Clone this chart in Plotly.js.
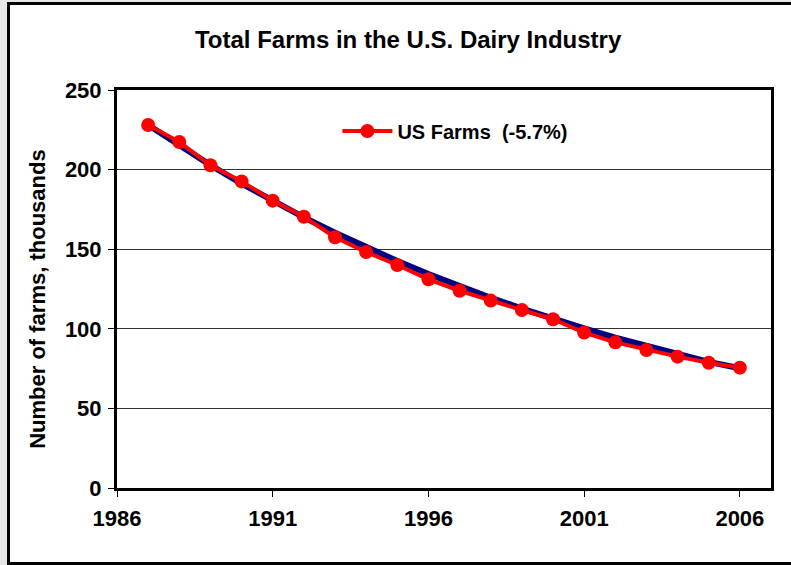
<!DOCTYPE html>
<html>
<head>
<meta charset="utf-8">
<script src="https://cdn.plot.ly/plotly-3.0.1.min.js"></script>
<style>
  html, body { margin: 0; padding: 0; background: #e6e6e6; width: 791px; height: 565px; overflow: hidden; }
  #frame { position: absolute; left: 7px; top: 2px; width: 800px; height: 557px;
           border: 3px solid #000; border-right: none; background: #fff; }
  #chart { position: absolute; left: 0; top: 0; width: 791px; height: 565px; }
</style>
</head>
<body>
<div id="frame"></div>
<div id="chart"></div>
<script>
// Number of U.S. dairy farms (thousands), 1987-2006
const years = [1987, 1988, 1989, 1990, 1991, 1992, 1993, 1994, 1995, 1996,
               1997, 1998, 1999, 2000, 2001, 2002, 2003, 2004, 2005, 2006];
const farms = [228.0, 217.3, 202.7, 192.6, 180.5, 170.4, 157.5, 148.2, 140.1, 131.1,
               123.9, 117.7, 111.8, 106.0, 97.6, 91.5, 86.7, 82.5, 78.7, 75.6];
// Exponential trend line (-5.7% per year)
const trend = [228.0, 215.0, 202.8, 191.2, 180.3, 170.0, 160.3, 151.2, 142.6, 134.4,
               126.8, 119.5, 112.7, 106.3, 100.2, 94.5, 89.1, 84.0, 79.2, 75.2];
const xTicks = [1986, 1991, 1996, 2001, 2006];
const yTicks = [0, 50, 100, 150, 200, 250];

const FONT = 'Liberation Sans, Arial, sans-serif';

const traces = [
  {
    x: years, y: trend, type: 'scatter', mode: 'lines',
    line: { color: '#000080', width: 6 },
    showlegend: false, hoverinfo: 'skip'
  },
  {
    x: years, y: farms, type: 'scatter', mode: 'lines+markers',
    name: 'US Farms\u00a0\u00a0(-5.7%)',
    line: { color: '#ff0000', width: 4 },
    marker: { color: '#ff0000', size: 14 }
  }
];

const layout = {
  width: 791, height: 565,
  paper_bgcolor: 'rgba(0,0,0,0)',
  plot_bgcolor: '#ffffff',
  margin: { l: 117, r: 20, t: 90, b: 77 },
  font: { family: FONT, color: '#000' },
  title: {
    text: 'Total Farms in the U.S. Dairy Industry',
    font: { family: FONT, size: 24, weight: 700, color: '#000' },
    x: 0.516, xanchor: 'center', y: 0.93, yanchor: 'middle'
  },
  xaxis: {
    range: [1986, 2007],
    tickvals: xTicks,
    ticktext: xTicks.map(String),
    ticks: 'outside', ticklen: 6, tickwidth: 1, tickcolor: '#000',
    showgrid: false, zeroline: false,
    showline: true, linecolor: '#000', linewidth: 3, mirror: true,
    ticklabelstandoff: 3,
    tickfont: { family: FONT, size: 22, weight: 700, color: '#000' }
  },
  yaxis: {
    range: [0, 250],
    tickvals: yTicks,
    ticks: 'outside', ticklen: 6, tickwidth: 1, tickcolor: '#000',
    showgrid: true, gridcolor: '#333', gridwidth: 1, zeroline: false,
    showline: true, linecolor: '#000', linewidth: 3, mirror: true,
    tickfont: { family: FONT, size: 22, weight: 700, color: '#000' },
    ticklabelstandoff: 2
  },
  annotations: [{
    text: 'Number of farms, thousands',
    xref: 'paper', yref: 'paper', x: -0.121, y: 0.475,
    xanchor: 'center', yanchor: 'middle', textangle: -90, showarrow: false,
    font: { family: FONT, size: 22, weight: 700, color: '#000' }
  }],
  legend: {
    x: 0.337, y: 0.897, xanchor: 'left', yanchor: 'middle',
    bgcolor: 'rgba(0,0,0,0)',
    font: { family: FONT, size: 20, weight: 700, color: '#000' },
    itemwidth: 50
  },
  showlegend: true
};

Plotly.newPlot('chart', traces, layout, { displayModeBar: false, staticPlot: true });
</script>
</body>
</html>
